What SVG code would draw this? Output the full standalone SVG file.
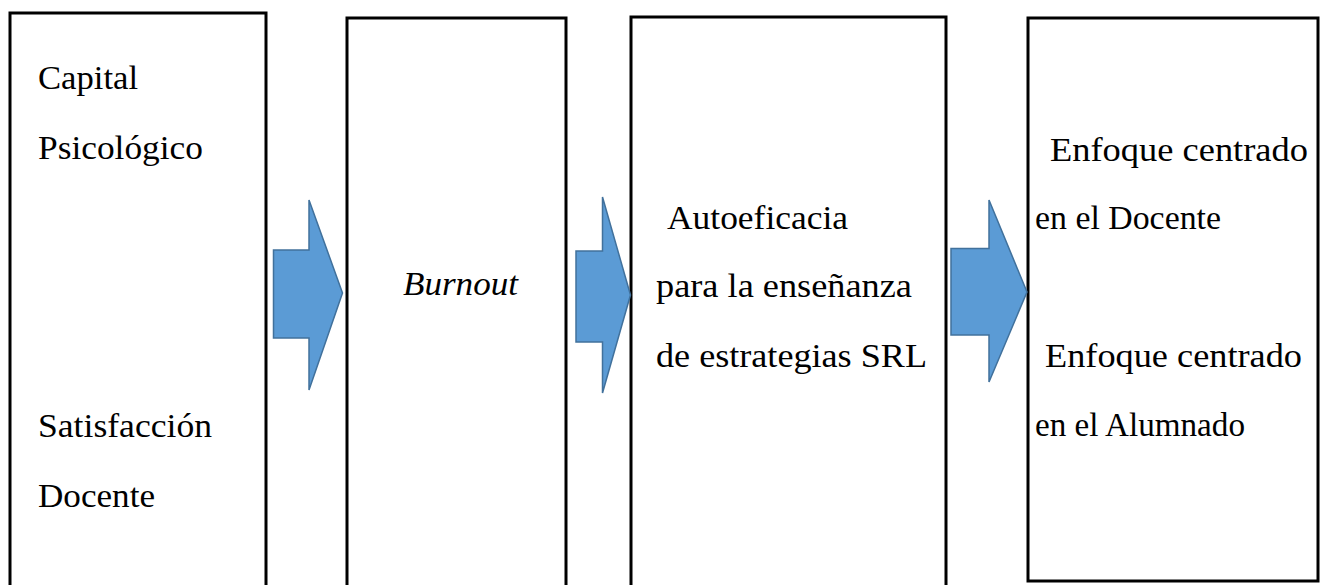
<svg xmlns="http://www.w3.org/2000/svg" width="1321" height="585" viewBox="0 0 1321 585">
<style>
.box{fill:#fff;stroke:#000;stroke-width:3}
.arr{fill:#5B9BD5;stroke:#41719C;stroke-width:1.5;stroke-linejoin:miter}
</style>
<rect width="1321" height="585" fill="#fff"/>
<g font-family="Liberation Serif, Times New Roman, serif" font-size="33" fill="#000">
<g id="node-capital">
<rect class="box" x="10" y="13" width="256" height="600"/>
<text x="38" y="89" textLength="100" lengthAdjust="spacingAndGlyphs">Capital</text>
<text x="38" y="159" textLength="165" lengthAdjust="spacingAndGlyphs">Psicológico</text>
<text x="38" y="437" textLength="174" lengthAdjust="spacingAndGlyphs">Satisfacción</text>
<text x="38" y="507" textLength="117" lengthAdjust="spacingAndGlyphs">Docente</text>
</g>
<g id="node-burnout">
<rect class="box" x="347" y="18" width="219" height="600"/>
<text font-style="italic" x="403" y="295" textLength="115" lengthAdjust="spacingAndGlyphs">Burnout</text>
</g>
<g id="node-autoeficacia">
<rect class="box" x="631" y="17" width="315" height="600"/>
<text x="667" y="229" textLength="181" lengthAdjust="spacingAndGlyphs">Autoeficacia</text>
<text x="656" y="297" textLength="256" lengthAdjust="spacingAndGlyphs">para la enseñanza</text>
<text x="656" y="367" textLength="271" lengthAdjust="spacingAndGlyphs">de estrategias SRL</text>
</g>
<g id="node-enfoque">
<rect class="box" x="1028" y="18" width="290" height="563"/>
<text x="1050" y="161" textLength="258" lengthAdjust="spacingAndGlyphs">Enfoque centrado</text>
<text x="1035" y="229" textLength="186" lengthAdjust="spacingAndGlyphs">en el Docente</text>
<text x="1045" y="367" textLength="257" lengthAdjust="spacingAndGlyphs">Enfoque centrado</text>
<text x="1035" y="436" textLength="210" lengthAdjust="spacingAndGlyphs">en el Alumnado</text>
</g>
</g>
<g id="connectors">
<polygon class="arr" points="273.5,250 309,250 309,200 342.5,293 309,390 309,338 273.5,338"/>
<polygon class="arr" points="576,251 602.5,251 602.5,197 630.5,295 602.5,393 602.5,342 576,342"/>
<polygon class="arr" points="951,248.5 989,248.5 989,200 1027,292 989,382 989,335 951,335"/>
</g>
</svg>
